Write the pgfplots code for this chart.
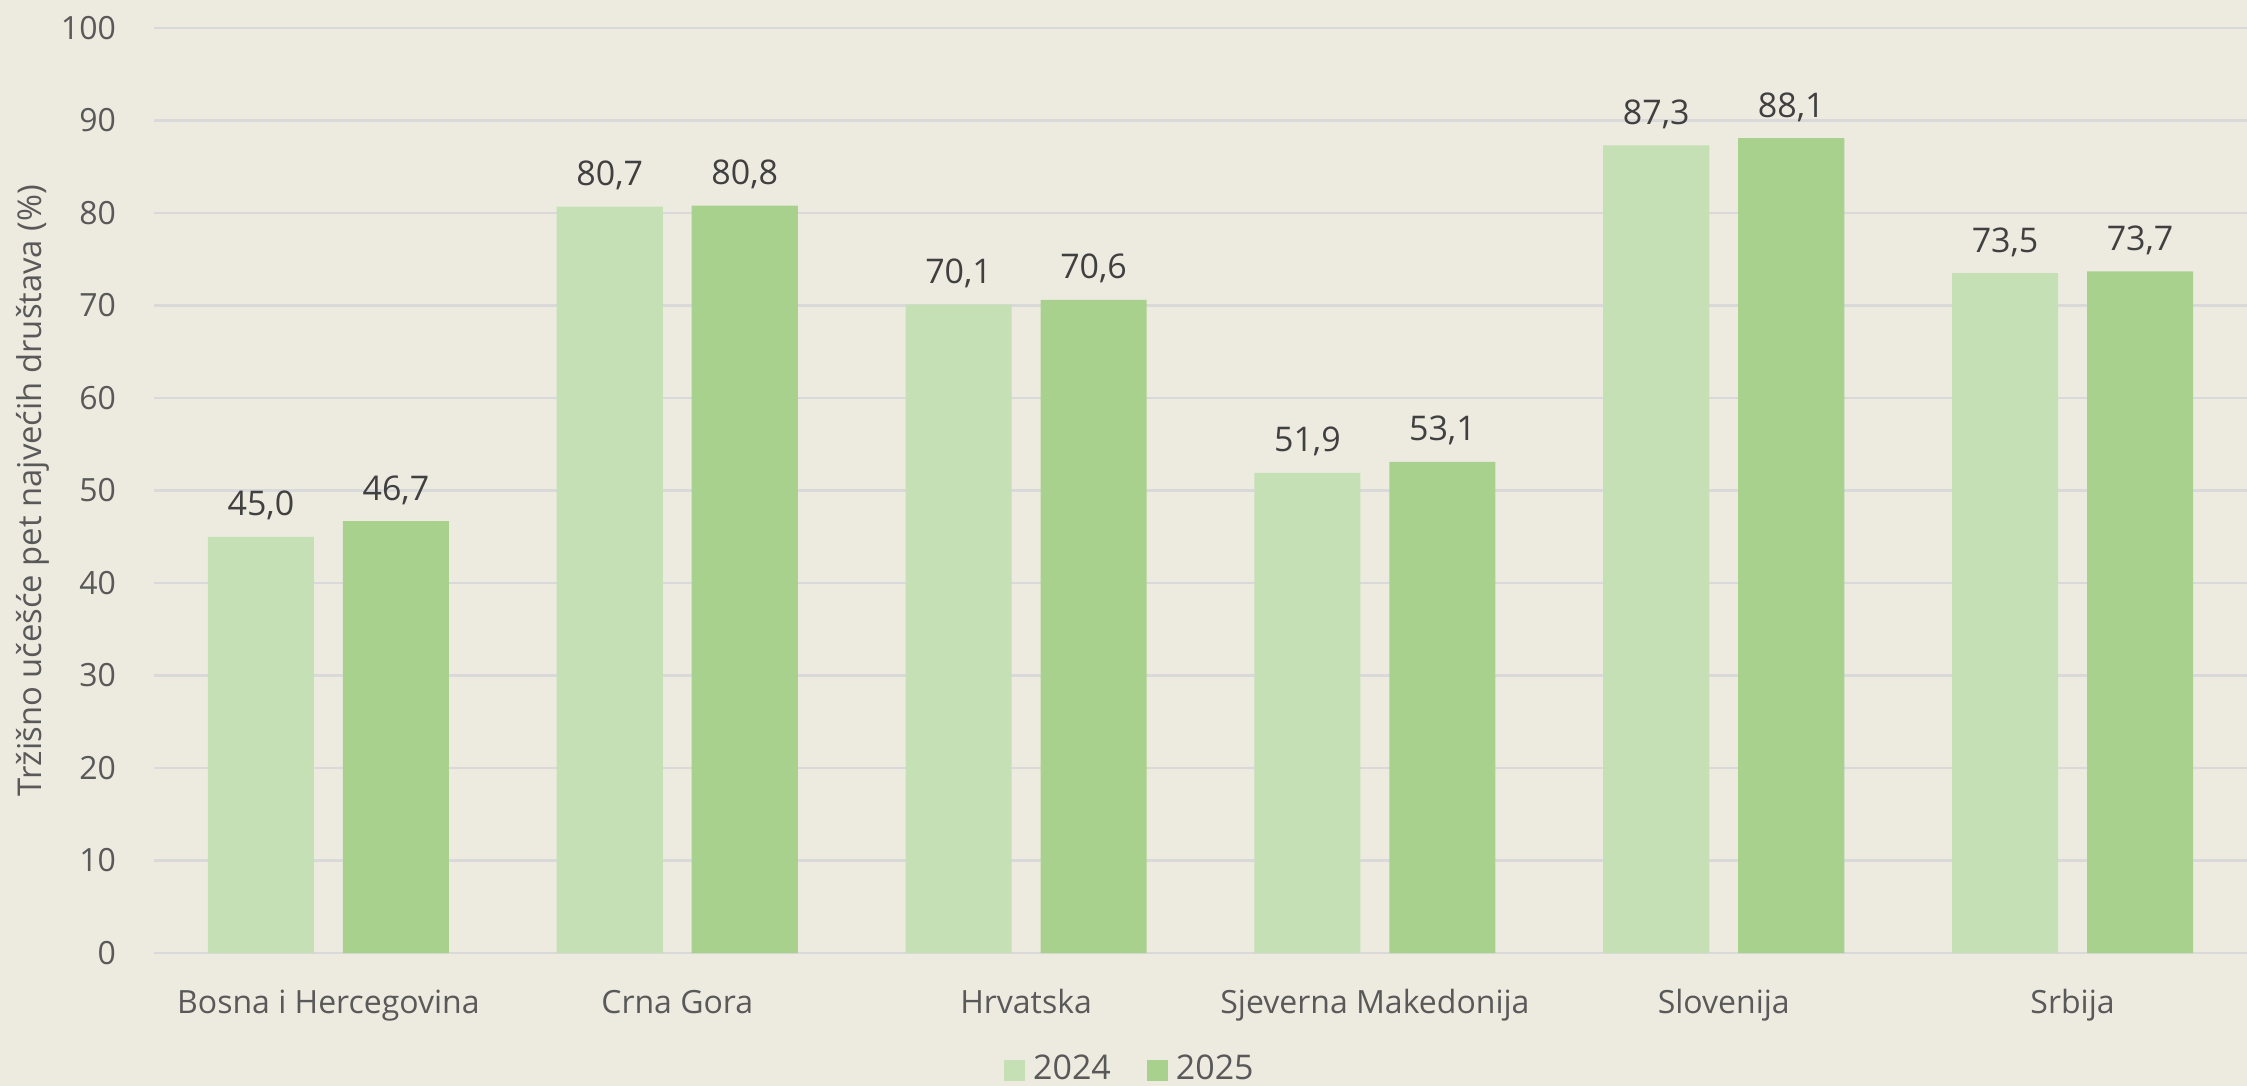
\documentclass[border=0pt]{standalone}
\usepackage{fontspec}
\setmainfont{Open Sans}
\usepackage{pgfplots}
\pgfplotsset{compat=1.18}
\usetikzlibrary{backgrounds}

\definecolor{bg}{HTML}{EDEBE0}
\definecolor{gridc}{HTML}{D9D9D9}
\definecolor{light}{HTML}{C5E0B4}
\definecolor{mid}{HTML}{A9D18E}
\definecolor{ticktxt}{HTML}{595959}
\definecolor{labtxt}{HTML}{404040}

\begin{document}
\begin{tikzpicture}
\begin{axis}[
    scale only axis,
    width=523.25pt, height=231.25pt,
    xmin=-0.5, xmax=5.5,
    ymin=0, ymax=100,
    ytick={0,10,...,100},
    xtick={0,1,2,3,4,5},
    xticklabels={Bosna i Hercegovina, Crna Gora, Hrvatska, Sjeverna Makedonija, Slovenija, Srbija},
    major tick length=0pt,
    axis line style={draw=none},
    ymajorgrids,
    grid style={gridc, line width=0.6pt},
    /pgf/number format/assume math mode=true,
    font=\fontsize{8}{10}\selectfont,
    yticklabel style={color=ticktxt, xshift=-6pt},
    xticklabel style={color=ticktxt, anchor=base, yshift=-15pt, font=\fontsize{8}{10}\selectfont},
    ylabel={Tržišno učešće pet najvećih društava (\%)},
    every axis y label/.style={at={(axis description cs:-0.0578,0.5)}, rotate=90, anchor=center,
        color=ticktxt, font=\fontsize{8.2}{10}\selectfont},
    ybar, bar width=0.304,
    nodes near coords,
    nodes near coords style={color=labtxt, anchor=base, yshift=5.25pt, font=\fontsize{8.5}{10}\selectfont,
        /pgf/number format/.cd, fixed, fixed zerofill, precision=1, use comma},
    legend columns=2,
    legend style={draw=none, fill=none, at={(axis description cs:0.4677,-0.1265)}, anchor=center,
        text=ticktxt, font=\fontsize{8.5}{10}\selectfont,
        /tikz/every even column/.append style={column sep=7pt}},
    legend image code/.code={\fill[#1,draw=none] (0pt,-2.625pt) rectangle (5.25pt,2.625pt);},
]
\addplot[fill=light, draw=none, bar shift=-0.1935] coordinates {(0,45.0) (1,80.7) (2,70.1) (3,51.9) (4,87.3) (5,73.5)};
\addplot[fill=mid, draw=none, bar shift=0.1935] coordinates {(0,46.7) (1,80.8) (2,70.6) (3,53.1) (4,88.1) (5,73.7)};
\legend{2024, 2025}
\coordinate (O) at (rel axis cs:0,0);
\end{axis}
\pgfresetboundingbox
\path[use as bounding box] ([shift={(-38.5pt,-33pt)}]O) rectangle ([shift={(523.25pt,238.25pt)}]O);
\begin{scope}[on background layer]
\fill[bg] ([shift={(-40pt,-35pt)}]O) rectangle ([shift={(525pt,240pt)}]O);
\end{scope}
\end{tikzpicture}
\end{document}
